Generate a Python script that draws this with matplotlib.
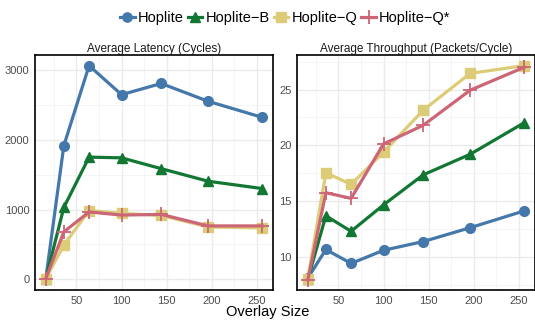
import numpy as np
import matplotlib
matplotlib.use("Agg")
import matplotlib.pyplot as plt
from matplotlib.ticker import MultipleLocator

plt.rcParams['font.family'] = ['Liberation Sans', 'DejaVu Sans']

overlay = [16, 36, 64, 100, 144, 196, 256]
names = ["Hoplite", "Hoplite\u2212B", "Hoplite\u2212Q", "Hoplite\u2212Q*"]

lat_hoplite = [10, 1915, 3060, 2645, 2805, 2550, 2320]
lat_b = [10, 1030, 1750, 1740, 1585, 1405, 1300]
lat_q = [10, 490, 985, 945, 915, 750, 735]
lat_qs = [10, 680, 965, 920, 930, 765, 765]

thr_hoplite = [8.1, 10.67, 9.42, 10.6, 11.38, 12.62, 14.13]
thr_b = [8.0, 13.69, 12.3, 14.67, 17.36, 19.2, 22.03]
thr_q = [8.05, 17.55, 16.5, 19.4, 23.15, 26.45, 27.15]
thr_qs = [7.95, 15.76, 15.25, 20.13, 21.8, 24.94, 27.0]

colors = ["#4477AA", "#117733", "#DDCC77", "#CC6677"]
markers = ["o", "^", "s", "+"]
msizes = [7, 7.5, 7.5, 10]

fig = plt.figure(figsize=(5.35, 3.22), dpi=100)
ax1 = fig.add_axes([35 / 535, 1 - 290 / 322, 238 / 535, 235 / 322])
ax2 = fig.add_axes([297 / 535, 1 - 290 / 322, 238 / 535, 235 / 322])

lat = [lat_hoplite, lat_b, lat_q, lat_qs]
thr = [thr_hoplite, thr_b, thr_q, thr_qs]

handles = []
for i in range(4):
    mew = 1.3 if markers[i] == "+" else 1
    h, = ax1.plot(overlay, lat[i], color=colors[i], lw=2.3, marker=markers[i],
                  ms=msizes[i], mew=mew, label=names[i])
    ax2.plot(overlay, thr[i], color=colors[i], lw=2.3, marker=markers[i],
             ms=msizes[i], mew=mew)
    handles.append(h)

for ax, title in [(ax1, "Average Latency (Cycles)"),
                  (ax2, "Average Throughput (Packets/Cycle)")]:
    ax.set_xlim(4, 268)
    ax.set_xticks([50, 100, 150, 200, 250])
    ax.xaxis.set_minor_locator(MultipleLocator(25))
    ax.set_title(title, fontsize=8.5, color="#1A1A1A", pad=2)
    ax.grid(which="major", color="#EBEBEB", lw=1)
    ax.grid(which="minor", color="#F2F2F2", lw=0.6)
    ax.set_axisbelow(True)
    ax.tick_params(which="both", length=0, labelsize=8, labelcolor="#4D4D4D", pad=4)
    for s in ax.spines.values():
        s.set_color("black")
        s.set_linewidth(1.2)

ax1.set_ylim(-153, 3213)
ax1.yaxis.set_major_locator(MultipleLocator(1000))
ax1.yaxis.set_minor_locator(MultipleLocator(500))
ax2.set_ylim(7.04, 28.1)
ax2.yaxis.set_major_locator(MultipleLocator(5))
ax2.yaxis.set_minor_locator(MultipleLocator(2.5))

fig.text(0.5, 1 - 312 / 322, "Overlay Size", ha="center", va="center", fontsize=10.5)
fig.legend(handles=handles, loc="center", bbox_to_anchor=(0.533, 0.945), ncol=4,
           frameon=False, fontsize=10.5, handlelength=1.0, handletextpad=0.2,
           columnspacing=0.3, markerscale=0.95)

fig.savefig("out.png", dpi=100)
